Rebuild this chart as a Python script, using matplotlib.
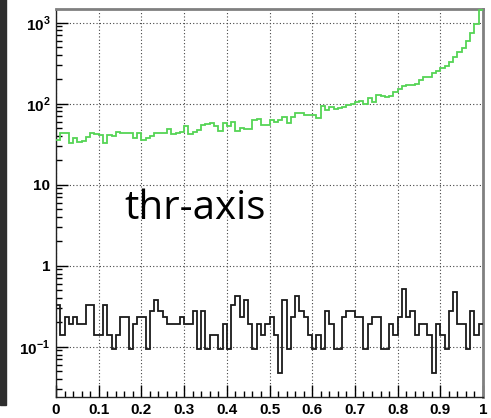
import matplotlib
matplotlib.use("Agg")
import matplotlib.pyplot as plt
import numpy as np
from matplotlib.ticker import FixedLocator, MultipleLocator, LogLocator, NullFormatter
from matplotlib.patches import Rectangle

plt.rcParams['font.family'] = ['Liberation Sans', 'DejaVu Sans']
plt.rcParams['mathtext.fontset'] = 'custom'
plt.rcParams['mathtext.rm'] = 'Liberation Sans:bold'
plt.rcParams['mathtext.bf'] = 'Liberation Sans:bold'

# 100 bins on [0, 1]
bin_edges = np.linspace(0, 1, 101)

# green histogram (upper curve)
green_counts = [
    36, 43.6, 43.6, 32.8, 37.8, 33.7, 34.7, 38.9, 44, 41.7,
    40.5, 33.1, 40.9, 39.8, 44.9, 43.6, 43.6, 44, 37.2, 44,
    35.5, 37.8, 39.8, 43.6, 43.6, 43.6, 48.9, 41.7, 43.6, 44.9,
    52.6, 41.7, 44.9, 47, 54, 56, 57, 53, 46, 57,
    53, 60, 46, 50, 48, 48, 62, 64, 54, 54,
    62, 59, 62, 69, 58, 69, 76, 77, 73, 73,
    72, 67, 94, 83, 90, 86, 89, 91, 96, 99,
    105, 107, 100, 116, 105, 126, 123, 119, 123, 140,
    150, 164, 169, 169, 177, 195, 214, 214, 236, 254,
    277, 290, 323, 378, 436, 489, 596, 735, 957, 1440,
]

# black histogram (lower curve)
black_counts = [
    0.33, 0.14, 0.23, 0.19, 0.23, 0.19, 0.19, 0.33, 0.33, 0.14,
    0.14, 0.33, 0.14, 0.095, 0.14, 0.23, 0.23, 0.095, 0.19, 0.23,
    0.23, 0.095, 0.275, 0.38, 0.275, 0.23, 0.19, 0.19, 0.19, 0.23,
    0.19, 0.19, 0.275, 0.095, 0.275, 0.095, 0.14, 0.14, 0.095, 0.19,
    0.095, 0.33, 0.42, 0.23, 0.38, 0.19, 0.095, 0.19, 0.14, 0.19,
    0.23, 0.14, 0.047, 0.38, 0.095, 0.23, 0.42, 0.275, 0.23, 0.14,
    0.095, 0.14, 0.095, 0.275, 0.19, 0.095, 0.095, 0.23, 0.275, 0.275,
    0.23, 0.23, 0.095, 0.19, 0.23, 0.23, 0.095, 0.095, 0.19, 0.14,
    0.23, 0.51, 0.23, 0.275, 0.14, 0.19, 0.19, 0.14, 0.047, 0.19,
    0.14, 0.095, 0.275, 0.48, 0.19, 0.19, 0.095, 0.275, 0.14, 0.19,
]

x_ticks = [0, 0.1, 0.2, 0.3, 0.4, 0.5, 0.6, 0.7, 0.8, 0.9, 1]
x_labels = ['0', '0.1', '0.2', '0.3', '0.4', '0.5', '0.6', '0.7', '0.8', '0.9', '1']
y_ticks = [0.1, 1, 10, 100, 1000]
y_labels = [r'$10^{-1}$', '1', '10', r'$10^{2}$', r'$10^{3}$']

fig = plt.figure(figsize=(4.91, 4.18), dpi=100)
# dark strip at the left edge of the screenshot
fig.patches.append(Rectangle((0, 13/418), 6/491, 1, transform=fig.transFigure,
                             color='#2e2e2e', zorder=0))

ax = fig.add_axes([56/491, 21/418, 427/491, 388/418])

ax.stairs(green_counts, bin_edges, baseline=None, color='#55d455', lw=1.3, zorder=3)
ax.stairs(black_counts, bin_edges, baseline=None, color='#1a1a1a', lw=1.3, zorder=3)

ax.set_yscale('log')
ax.set_xlim(0, 1)
ax.set_ylim(0.024, 1470)

ax.xaxis.set_major_locator(FixedLocator(x_ticks))
ax.set_xticklabels(x_labels)
ax.xaxis.set_minor_locator(MultipleLocator(0.02))
ax.yaxis.set_major_locator(FixedLocator(y_ticks))
ax.set_yticklabels(y_labels)
ax.yaxis.set_minor_locator(LogLocator(base=10, subs=np.arange(2, 10)))
ax.yaxis.set_minor_formatter(NullFormatter())

ax.tick_params(which='both', direction='in', top=False, right=False, color='black', width=1)
ax.tick_params(which='major', length=8.5, labelsize=11, pad=4)
ax.tick_params(which='minor', length=4.5)
for lab in ax.get_xticklabels() + ax.get_yticklabels():
    lab.set_fontweight('bold')

ax.grid(True, which='major', linestyle=(0, (1, 2)), color='#444444', lw=0.8)

for side in ['top', 'right']:
    ax.spines[side].set_color('#808080')
    ax.spines[side].set_linewidth(2)
for side in ['left', 'bottom']:
    ax.spines[side].set_color('#222222')
    ax.spines[side].set_linewidth(1)

fig.text(124/491, 1 - 209/418, 'thr-axis', fontsize=29, family=['Open Sans', 'DejaVu Sans'],
         va='center', ha='left', color='black')

fig.savefig('out.png', dpi=100)
